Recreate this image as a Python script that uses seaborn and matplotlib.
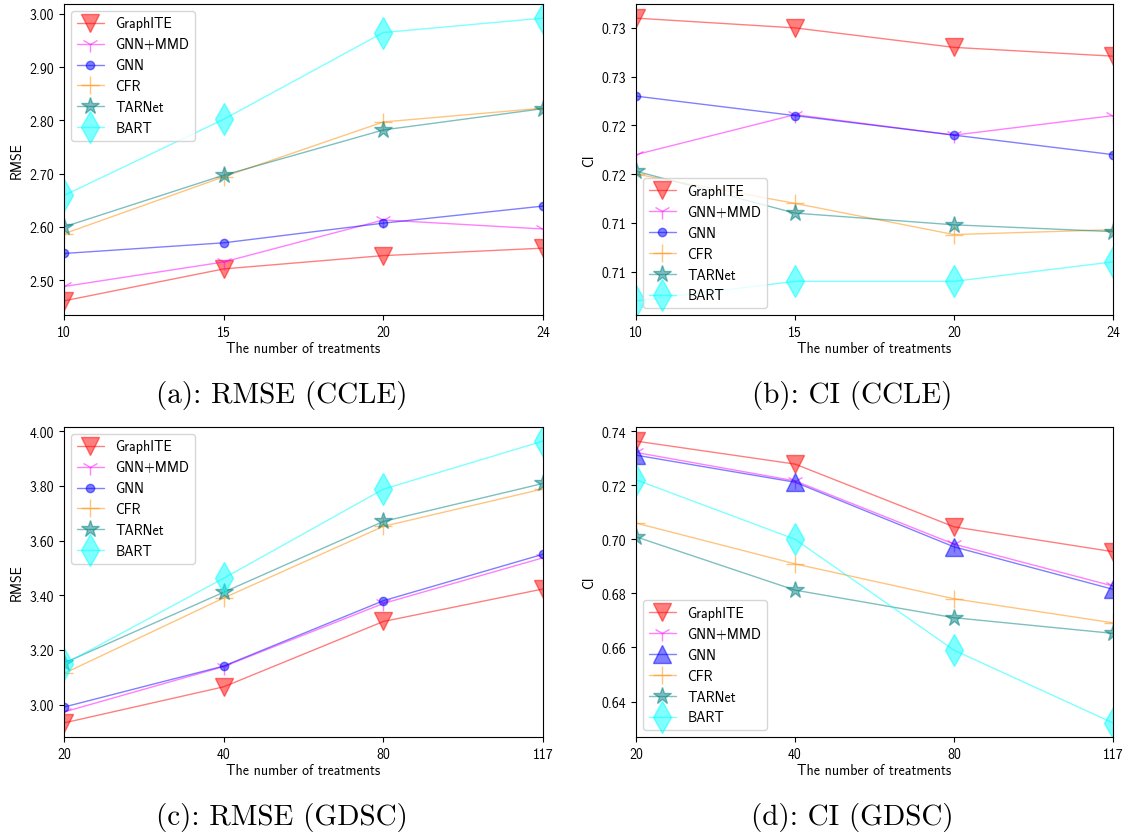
import matplotlib
matplotlib.use('Agg')
import matplotlib.pyplot as plt
import seaborn as sns
import pandas as pd
from matplotlib.ticker import FormatStrFormatter

sns.set_style('ticks')
plt.rcParams['font.family'] = ['cmss10', 'DejaVu Sans']
plt.rcParams['axes.formatter.use_mathtext'] = False
plt.rcParams['axes.edgecolor'] = 'black'
plt.rcParams['xtick.color'] = 'black'
plt.rcParams['ytick.color'] = 'black'
plt.rcParams['text.color'] = 'black'
plt.rcParams['axes.labelcolor'] = 'black'

methods = ['GraphITE', 'GNN+MMD', 'GNN', 'CFR', 'TARNet', 'BART']
colors = ['red', 'magenta', 'blue', 'darkorange', 'teal', 'cyan']

ccle_treatments = ['10', '15', '20', '24']
gdsc_treatments = ['20', '40', '80', '117']

# RMSE on CCLE
rmse_ccle_graphite = [2.461, 2.521, 2.546, 2.560]
rmse_ccle_gnn_mmd = [2.488, 2.534, 2.613, 2.596]
rmse_ccle_gnn = [2.550, 2.570, 2.607, 2.639]
rmse_ccle_cfr = [2.587, 2.694, 2.797, 2.823]
rmse_ccle_tarnet = [2.600, 2.697, 2.782, 2.822]
rmse_ccle_bart = [2.659, 2.802, 2.965, 2.992]

# CI on CCLE
ci_ccle_graphite = [0.7360, 0.7350, 0.7330, 0.7321]
ci_ccle_gnn_mmd = [0.7220, 0.7261, 0.7240, 0.7260]
ci_ccle_gnn = [0.7280, 0.7260, 0.7240, 0.7220]
ci_ccle_cfr = [0.7200, 0.7170, 0.7138, 0.7143]
ci_ccle_tarnet = [0.7203, 0.7160, 0.7148, 0.7141]
ci_ccle_bart = [0.7070, 0.7090, 0.7090, 0.7110]

# RMSE on GDSC
rmse_gdsc_graphite = [2.933, 3.065, 3.304, 3.423]
rmse_gdsc_gnn_mmd = [2.973, 3.139, 3.370, 3.537]
rmse_gdsc_gnn = [2.991, 3.141, 3.380, 3.550]
rmse_gdsc_cfr = [3.114, 3.390, 3.652, 3.789]
rmse_gdsc_tarnet = [3.152, 3.411, 3.670, 3.809]
rmse_gdsc_bart = [3.148, 3.462, 3.788, 3.964]

# CI on GDSC
ci_gdsc_graphite = [0.7363, 0.7278, 0.7046, 0.6954]
ci_gdsc_gnn_mmd = [0.7321, 0.7216, 0.6982, 0.6827]
ci_gdsc_gnn = [0.7311, 0.7211, 0.6972, 0.6815]
ci_gdsc_cfr = [0.7060, 0.6909, 0.6780, 0.6691]
ci_gdsc_tarnet = [0.7009, 0.6812, 0.6710, 0.6652]
ci_gdsc_bart = [0.7220, 0.7000, 0.6590, 0.6321]

ci_ccle_ticks = [0.710, 0.715, 0.720, 0.725, 0.730, 0.735]

captions = ['(a): RMSE (CCLE)', '(b): CI (CCLE)', '(c): RMSE (GDSC)', '(d): CI (GDSC)']

panels = [
    (ccle_treatments, [rmse_ccle_graphite, rmse_ccle_gnn_mmd, rmse_ccle_gnn,
                       rmse_ccle_cfr, rmse_ccle_tarnet, rmse_ccle_bart], 'RMSE', 'upper left', 'o'),
    (ccle_treatments, [ci_ccle_graphite, ci_ccle_gnn_mmd, ci_ccle_gnn,
                       ci_ccle_cfr, ci_ccle_tarnet, ci_ccle_bart], 'CI', 'lower left', 'o'),
    (gdsc_treatments, [rmse_gdsc_graphite, rmse_gdsc_gnn_mmd, rmse_gdsc_gnn,
                       rmse_gdsc_cfr, rmse_gdsc_tarnet, rmse_gdsc_bart], 'RMSE', 'upper left', 'o'),
    (gdsc_treatments, [ci_gdsc_graphite, ci_gdsc_gnn_mmd, ci_gdsc_gnn,
                       ci_gdsc_cfr, ci_gdsc_tarnet, ci_gdsc_bart], 'CI', 'lower left', '^'),
]

W, H = 1126, 837
fig = plt.figure(figsize=(W / 100, H / 100), dpi=100)

# pixel boxes: left, top, right, bottom
boxes = [(64, 5, 543, 316), (636, 5, 1113, 316), (64, 428, 543, 738), (636, 428, 1113, 738)]

for i, (treat, series, ylab, loc, gnn_marker) in enumerate(panels):
    l, t, r, b = boxes[i]
    ax = fig.add_axes([l / W, 1 - b / H, (r - l) / W, (b - t) / H])
    markers = ['v', '1', gnn_marker, '+', '*', 'd']
    sizes = [13, 12, 6 if gnn_marker == 'o' else 13, 13, 13, 16]
    for name, vals, c, m, ms in zip(methods, series, colors, markers, sizes):
        df = pd.DataFrame({'x': treat, 'y': vals})
        sns.lineplot(data=df, x='x', y='y', ax=ax, color=c, alpha=0.5, lw=1,
                     marker=m, markersize=ms, markeredgecolor=c,
                     markeredgewidth=1, label=name, sort=False)
    ax.set_xlim(0, len(treat) - 1)
    ax.set_xlabel('The number of treatments', fontsize=10, labelpad=2)
    ax.set_ylabel(ylab, fontsize=10)
    ax.yaxis.set_major_formatter(FormatStrFormatter('%.2f'))
    if i == 1:
        ax.set_yticks(ci_ccle_ticks)
    ax.tick_params(labelsize=10, length=3.5, width=0.8)
    for s in ax.spines.values():
        s.set_linewidth(0.8)
    ax.legend(loc=loc, fontsize=10, frameon=True, framealpha=0.8, edgecolor='0.8',
              fancybox=True, handlelength=2, borderpad=0.4, labelspacing=0.5)
    # caption sits under the whole subfigure, which includes the y label
    fig.text(((l + r) / 2 - 22) / W, 1 - (b + 80) / H, captions[i], ha='center', va='center',
             fontsize=21, family=['cmr10', 'DejaVu Serif'])

fig.savefig('out.png', dpi=100, facecolor='white')
